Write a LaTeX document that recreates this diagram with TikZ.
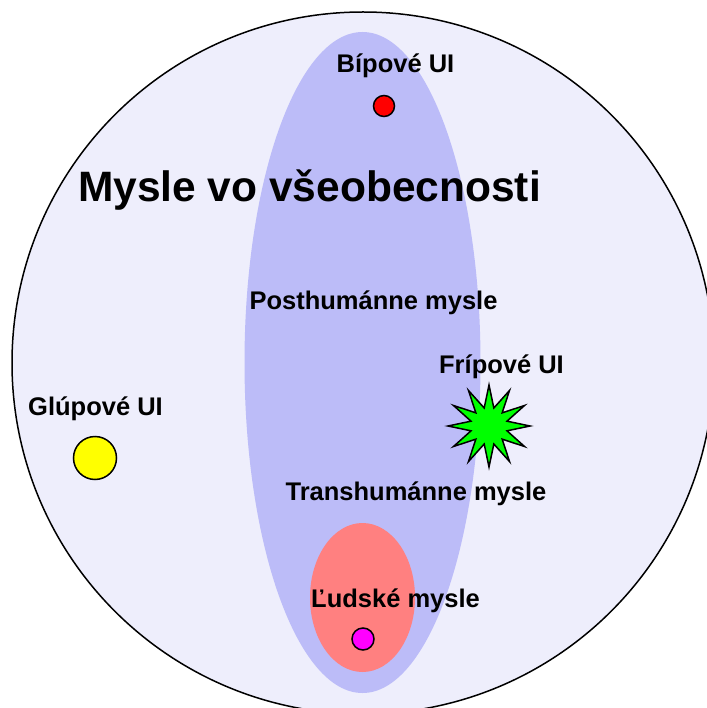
\documentclass[tikz,border=0pt]{standalone}
\usepackage{fontspec}
\setmainfont{Liberation Sans}
\usepackage{tikz}
\usetikzlibrary{shapes.geometric}
\definecolor{bglav}{RGB}{238,238,252}
\definecolor{postblue}{RGB}{188,188,248}
\definecolor{humred}{RGB}{255,128,128}
\definecolor{dotmag}{RGB}{255,0,255}
\definecolor{dotgreen}{RGB}{0,255,0}
\definecolor{dotyellow}{RGB}{255,255,0}
\definecolor{dotred}{RGB}{255,0,0}
\begin{document}
\begin{tikzpicture}[x=1pt, y=-1pt,
    dot/.style={circle,draw,line width=1.5pt,inner sep=0pt},
    lbl/.style={anchor=base,font=\bfseries\fontsize{25.5}{30}\selectfont}]
        \useasboundingbox (0,0) rectangle (706,708);

        % Minds in general
        \draw[fill=bglav, line width=1.5pt] (363,363) circle[radius=351pt];
        % Posthuman minds
        \fill[postblue] (362.5,362.5) ellipse[x radius=118pt, y radius=330.5pt];
        % Human minds
        \fill[humred] (362.5,597.5) ellipse[x radius=52.5pt, y radius=74.5pt];

        % Labels
        \node[lbl,font=\bfseries\fontsize{42.5}{50}\selectfont] (general) at (309.5,202) {Mysle vo všeobecnosti};
        \node[lbl] (bipl) at (395.5,73) {Bípové UI};
        \node[lbl] (post) at (373.5,309) {Posthumánne mysle};
        \node[lbl] (fripl) at (501.5,373) {Frípové UI};
        \node[lbl] (glupl) at (95.5,415) {Glúpové UI};
        \node[lbl] (trans) at (416,500) {Transhumánne mysle};
        \node[lbl] (human) at (395.5,607) {Ľudské mysle};

        % Markers
        \node[dot,fill=dotred,minimum size=21pt] (bip) at (384,106) {};
        \node[dot,fill=dotyellow,minimum size=43pt] (glup) at (95,458) {};
        \node[dot,fill=dotmag,minimum size=22pt] (hum) at (363,639) {};
        \node[star,star points=12,star point ratio=2.2,draw,line width=1.5pt,
              fill=dotgreen,inner sep=0pt,minimum size=82pt] (frip) at (489,426) {};
\end{tikzpicture}
\end{document}
